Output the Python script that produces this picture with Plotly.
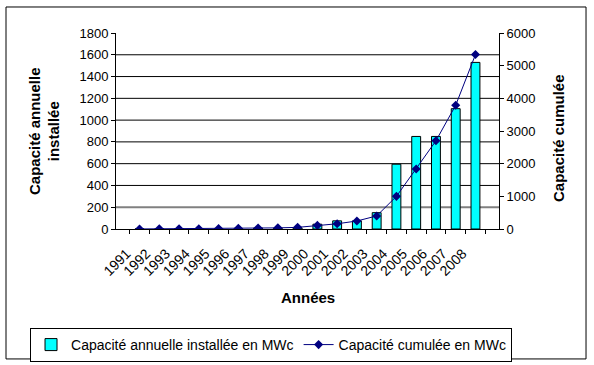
import plotly.graph_objects as go

years = [str(y) for y in range(1991, 2009)]
annual = [1, 2, 3, 2, 3, 3, 9, 6, 10, 44, 75, 75, 150, 595, 850, 850, 1105, 1530]
cumul = [2, 4, 7, 9, 12, 22, 30, 35, 50, 110, 160, 245, 400, 1000, 1835, 2700, 3790, 5340]
left_ticks = [0, 200, 400, 600, 800, 1000, 1200, 1400, 1600, 1800]
right_ticks = [0, 1000, 2000, 3000, 4000, 5000, 6000]

FONT = "Liberation Sans, Arial, sans-serif"

fig = go.Figure()
fig.add_trace(go.Bar(
    x=years, y=annual, name="Capacité annuelle installée en MWc",
    marker=dict(color="#00FFFF", line=dict(color="black", width=1)),
))
fig.add_trace(go.Scatter(
    x=years, y=cumul, name="Capacité cumulée en MWc", yaxis="y2",
    mode="lines+markers",
    line=dict(color="#000080", width=1),
    marker=dict(symbol="diamond", size=7, color="#000080"),
))

shapes = []
for v in left_ticks[1:-1]:
    shapes.append(dict(type="line", xref="paper", yref="y", x0=0, x1=1, y0=v, y1=v,
                       line=dict(color="#808080" if v == 200 else "black", width=2 if v == 200 else 1),
                       layer="below"))
shapes.append(dict(type="rect", xref="paper", yref="paper",
                   x0=-0.2872, x1=1.2272, y0=-0.663, y1=1.1327,
                   line=dict(color="black", width=1)))

fig.update_layout(
    width=594, height=365,
    margin=dict(l=116, r=95, t=33, b=136, autoexpand=False),
    paper_bgcolor="white", plot_bgcolor="white",
    font=dict(family=FONT, size=13, color="black"),
    bargap=0.55,
    showlegend=True,
    legend=dict(orientation="h", x=-0.2245, y=-0.505, xanchor="left", yanchor="top",
                bordercolor="black", borderwidth=1, font=dict(size=14),
                itemwidth=30, tracegroupgap=0),
    xaxis=dict(type="category", tickangle=-45, ticks="outside", ticklen=4, tickcolor="black",
               tickson="boundaries", showline=True, linecolor="black", linewidth=1,
               showgrid=False, tickfont=dict(size=14), automargin=False,
               ticklabelshift=-13, ticklabelstandoff=10),
    yaxis=dict(range=[0, 1800], tickvals=left_ticks, ticks="outside", ticklen=4,
               tickcolor="black", showline=True, linecolor="black", linewidth=1,
               showgrid=False, zeroline=False, tickfont=dict(size=13), automargin=False),
    yaxis2=dict(range=[0, 6000], tickvals=right_ticks, overlaying="y", side="right",
                ticks="outside", ticklen=4, tickcolor="black", showline=True,
                linecolor="black", linewidth=1, showgrid=False, zeroline=False,
                tickfont=dict(size=13), automargin=False),
    shapes=shapes,
    annotations=[
        dict(text="<b>Capacité annuelle<br>installée</b>", textangle=-90, xref="paper", yref="paper",
             x=-0.188, y=0.5, xanchor="center", yanchor="middle", showarrow=False,
             font=dict(size=15)),
        dict(text="<b>Capacité cumulée</b>", textangle=-90, xref="paper", yref="paper",
             x=1.154, y=0.464, xanchor="center", yanchor="middle", showarrow=False,
             font=dict(size=15)),
        dict(text="<b>Années</b>", xref="paper", yref="paper",
             x=0.5, y=-0.347, xanchor="center", yanchor="middle", showarrow=False,
             font=dict(size=15)),
    ],
)

fig.write_html("out.html", config={"displayModeBar": False},
               post_script="document.body.style.margin='0';document.body.style.overflow='hidden';")
